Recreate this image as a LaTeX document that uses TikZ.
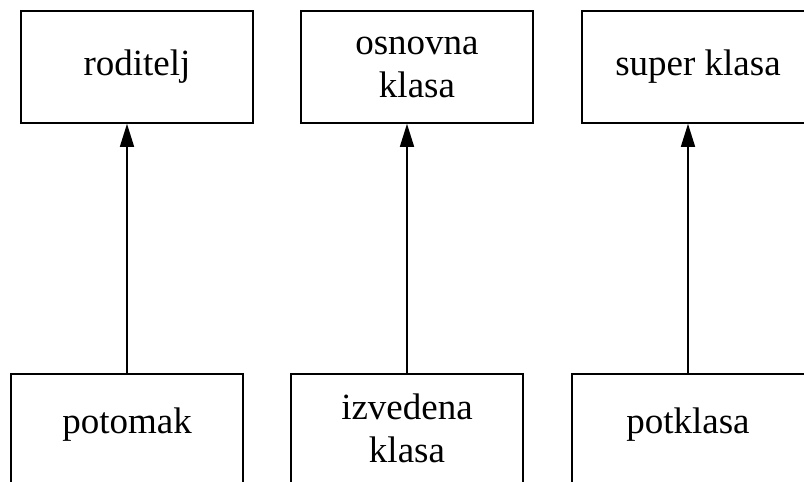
\documentclass[tikz,border=0pt]{standalone}
\usepackage{fontspec}
\setmainfont{Liberation Serif}
\usetikzlibrary{arrows.meta}
\tikzset{
  box/.style={draw=black, line width=1.6pt, rectangle, minimum width=232pt, inner sep=0pt, align=center,
    font=\fontsize{37}{43}\selectfont},
  topbox/.style={box, minimum height=112pt},
  botbox/.style={box, minimum height=140pt, anchor=north},
  lbl/.style={inner sep=0pt, align=center, font=\fontsize{37}{43}\selectfont},
  inh/.style={line width=1.6pt, -{Triangle[length=23pt,width=14pt]}}
}
\begin{document}
\begin{tikzpicture}[x=1pt,y=1pt]
\useasboundingbox (0,0) rectangle (804,-482);
\clip (0,0) rectangle (804,-482);
\node[topbox] (t1) at (137,-67) {roditelj};
\node[topbox] (t2) at (417,-67) {osnovna\\klasa};
\node[topbox] (t3) at (698,-67) {super klasa};
\node[botbox] (b1) at (127,-373) {};
\node[botbox] (b2) at (407,-373) {};
\node[botbox, minimum width=236pt] (b3) at (690,-373) {};
\node[lbl] (l1) at (127,-424.5) {potomak};
\node[lbl] (l2) at (407,-428) {izvedena\\klasa};
\node[lbl] (l3) at (688,-424.5) {potklasa};
\draw[inh] (b1.north) -- (b1.north |- t1.south);
\draw[inh] (b2.north) -- (b2.north |- t2.south);
\draw[inh] ([xshift=-2pt]b3.north) -- ([xshift=-2pt]b3.north |- t3.south);
\end{tikzpicture}
\end{document}
